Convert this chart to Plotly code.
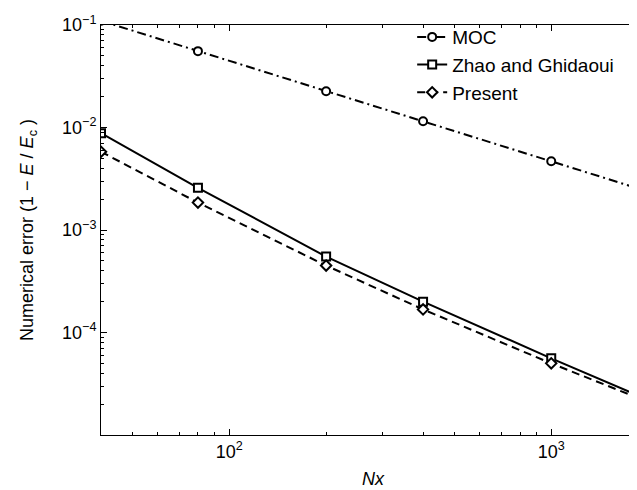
import numpy as np
import plotly.graph_objects as go

# Data
nx = [40, 80, 200, 400, 1000, 2000]
moc = [0.11, 0.0556, 0.0226, 0.0115, 0.00468, 0.00237]
zhao = [0.0088, 0.00258, 5.5e-4, 2.0e-4, 5.6e-5, 2.2e-5]
present = [0.0058, 0.00185, 4.5e-4, 1.68e-4, 5.0e-5, 2.1e-5]

x_ticks = [100, 1000]
x_ticktext = ["10<sup>2</sup>", "10<sup>3</sup>"]
y_ticks = [1e-4, 1e-3, 1e-2, 1e-1]
y_ticktext = ["10<sup>−4</sup>", "10<sup>−3</sup>", "10<sup>−2</sup>", "10<sup>−1</sup>"]

x_minor = [m * 10 ** e for e in (1, 2, 3) for m in range(2, 10)]
y_minor = [m * 10 ** e for e in (-5, -4, -3, -2) for m in range(2, 10)]

FONT = "Liberation Sans, Arial, sans-serif"
FS = 18

fig = go.Figure()

def add(name, y, dash, symbol):
    fig.add_trace(go.Scatter(
        x=nx, y=y, name=name, mode="lines+markers",
        line=dict(color="black", width=2, dash=dash),
        marker=dict(symbol=symbol, size=8, color="white",
                    line=dict(color="black", width=2)),
        cliponaxis=True,
    ))

add("MOC", moc, "9px,4px,2px,4px", "circle")
add("Zhao and Ghidaoui", zhao, "solid", "square")
add("Present", present, "8px,5px", "diamond")

fig.update_layout(
    width=637, height=490,
    margin=dict(l=93, r=0, t=17, b=63, autoexpand=False),
    paper_bgcolor="white", plot_bgcolor="white",
    font=dict(family=FONT, size=FS, color="black"),
    showlegend=True,
    legend=dict(x=0.572, y=1.017, xanchor="left", yanchor="top",
                bgcolor="rgba(0,0,0,0)", borderwidth=0,
                font=dict(size=19), itemwidth=30, tracegroupgap=0),
)

fig.update_xaxes(
    type="log", range=[np.log10(40), np.log10(1955)],
    automargin=False,
    showgrid=False, zeroline=False,
    showline=True, linecolor="black", linewidth=1, mirror="ticks",
    ticks="inside", ticklen=6, tickcolor="black",
    tickmode="array", tickvals=x_ticks, ticktext=x_ticktext,
    minor=dict(tickmode="array", tickvals=x_minor, ticks="inside",
               ticklen=3, tickcolor="black", showgrid=False),
    title=dict(text="<i>Nx</i>", standoff=11, font=dict(size=FS)),
    tickfont=dict(size=FS),
)
fig.update_yaxes(
    type="log", range=[-5, -1],
    automargin=False,
    showgrid=False, zeroline=False,
    showline=True, linecolor="black", linewidth=1, mirror="ticks",
    ticks="inside", ticklen=6, tickcolor="black",
    tickmode="array", tickvals=y_ticks, ticktext=y_ticktext,
    minor=dict(tickmode="array", tickvals=y_minor, ticks="inside",
               ticklen=3, tickcolor="black", showgrid=False),
    title=dict(text="Numerical error (1 − <i>E</i> / <i>E</i><sub>c</sub> )",
               standoff=23, font=dict(size=FS)),
    tickfont=dict(size=FS),
)

fig.write_html("out.html")
